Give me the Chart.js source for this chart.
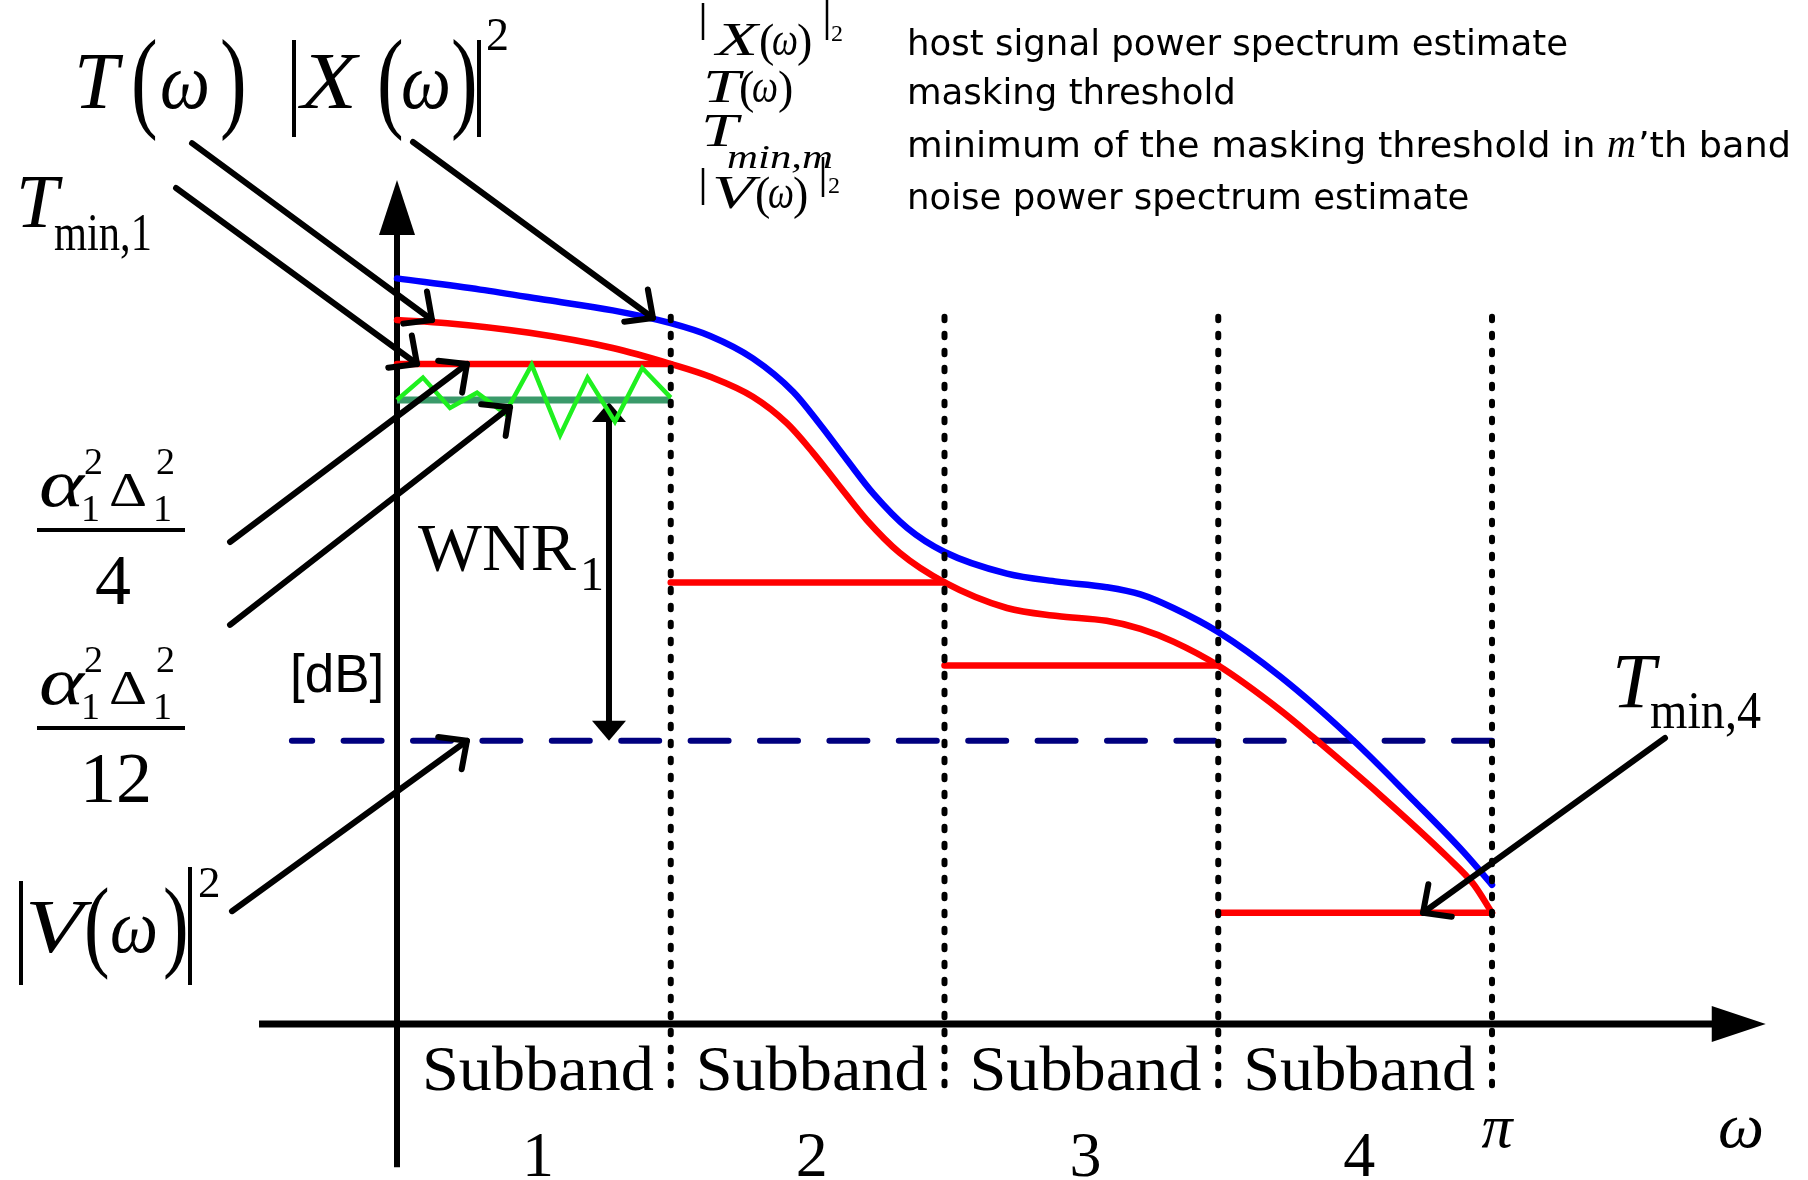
<!DOCTYPE html>
<html>
<head>
<meta charset="utf-8">
<script src="https://cdn.jsdelivr.net/npm/chart.js@4.4.1/dist/chart.umd.min.js"></script>
<style>
  html, body { margin: 0; padding: 0; background: #ffffff; }
  #wrap { width: 1808px; height: 1180px; position: relative; }
</style>
</head>
<body>
<div id="wrap"><canvas id="c"></canvas></div>
<script>
// Frequencies are given in units of pi (0 ... 1), levels in dB.
const bandEdges = [0, 0.25, 0.5, 0.75, 1];
const bandNumbers = ['1', '2', '3', '4'];

// |X(w)|^2 : host signal power spectrum estimate
const hostOmega = [0, 0.076, 0.137, 0.197, 0.25, 0.286, 0.325, 0.362, 0.386, 0.411, 0.435, 0.466, 0.5,
                   0.557, 0.603, 0.648, 0.679, 0.709, 0.75, 0.806, 0.873, 0.928, 0.974, 1];
const hostDb    = [93.2, 91.8, 90.5, 89.2, 87.6, 86.0, 83.2, 79.0, 75.0, 70.5, 66.3, 62.0, 59.0,
                   56.3, 55.3, 54.6, 53.7, 52.0, 49.0, 43.5, 35.5, 28.0, 21.5, 17.4];

// T(w) : masking threshold
const maskOmega = [0, 0.046, 0.121, 0.197, 0.25, 0.286, 0.325, 0.356, 0.38, 0.402, 0.429, 0.459, 0.5,
                   0.557, 0.603, 0.648, 0.679, 0.709, 0.75, 0.806, 0.837, 0.898, 0.959, 0.983, 1];
const maskDb    = [88.0, 87.6, 86.4, 84.5, 82.5, 80.9, 78.4, 75.1, 71.4, 67.6, 63.0, 58.9, 55.2,
                   52.0, 51.0, 50.4, 49.4, 47.8, 44.8, 39.3, 35.8, 28.6, 20.9, 17.5, 13.9];

// T_min,m : minimum of the masking threshold in each subband
const tminDb = [82.5, 55.2, 44.8, 13.9];

// watermark spectrum in subband 1 and its mean level
const markOmega = [0, 0.0237, 0.0484, 0.0731, 0.0986, 0.123, 0.149, 0.174, 0.199, 0.224, 0.25];
const markDb    = [78.0, 80.8, 77.0, 78.9, 76.3, 82.4, 73.6, 80.8, 75.3, 82.0, 78.3];
const markLevelDb = 78.0;

// |V(w)|^2 : noise power spectrum estimate
const noiseDb = 35.4;
const noiseFrom = -0.096;

const PI = Math.PI;
const SERIF = '"Liberation Serif", "Times New Roman", serif';
const SANS = '"Liberation Sans", Arial, sans-serif';
const LEGEND_SANS = '"DejaVu Sans", sans-serif';

const toPts = (om, db) => om.map((o, i) => ({ x: o * PI, y: db[i] }));
const base = { pointRadius: 0, pointHoverRadius: 0, fill: false, clip: false, tension: 0 };

const datasets = [];
// dotted subband separators (drawn on top)
bandEdges.slice(1).forEach(e => {
  datasets.push(Object.assign({}, base, {
    data: [{ x: e * PI, y: 88.4 }, { x: e * PI, y: -8.6 }],
    borderColor: '#000000', borderWidth: 6, borderDash: [3.5, 13.5], borderCapStyle: 'round'
  }));
});
// watermark zigzag
datasets.push(Object.assign({}, base, {
  data: toPts(markOmega, markDb), borderColor: '#1ff01f', borderWidth: 4.5
}));
// T_min,m steps
tminDb.forEach((v, i) => {
  datasets.push(Object.assign({}, base, {
    data: [{ x: bandEdges[i] * PI, y: v }, { x: bandEdges[i + 1] * PI, y: v }],
    borderColor: '#ff0000', borderWidth: 6.5, borderCapStyle: 'round'
  }));
});
// masking threshold
datasets.push(Object.assign({}, base, {
  data: toPts(maskOmega, maskDb), borderColor: '#ff0000', borderWidth: 6.5,
  borderCapStyle: 'round', cubicInterpolationMode: 'monotone'
}));
// host power spectrum
datasets.push(Object.assign({}, base, {
  data: toPts(hostOmega, hostDb), borderColor: '#0000ff', borderWidth: 6.5,
  borderCapStyle: 'round', cubicInterpolationMode: 'monotone'
}));
// watermark level in subband 1
datasets.push(Object.assign({}, base, {
  data: [{ x: bandEdges[0] * PI, y: markLevelDb }, { x: bandEdges[1] * PI, y: markLevelDb }],
  borderColor: '#3a9a6a', borderWidth: 7
}));
// noise level (drawn from pi towards the left so the dash pattern starts at pi)
datasets.push(Object.assign({}, base, {
  data: [{ x: PI, y: noiseDb }, { x: noiseFrom * PI, y: noiseDb }],
  borderColor: '#00007f', borderWidth: 6, borderDash: [38, 31.4], borderCapStyle: 'round'
}));

// ---------- drawing helpers ----------
function run(ctx, t, x, y, size, opt) {
  opt = opt || {};
  ctx.save();
  ctx.fillStyle = '#000';
  ctx.font = (opt.italic ? 'italic ' : '') + size + 'px ' + (opt.family || SERIF);
  ctx.textBaseline = 'alphabetic';
  ctx.textAlign = opt.align || 'left';
  ctx.translate(x, y);
  let sx = opt.sx || 1;
  if (opt.w) sx = opt.w / ctx.measureText(t).width;
  ctx.scale(sx, opt.sy || 1);
  ctx.fillText(t, 0, 0);
  ctx.restore();
}
function vbar(ctx, x, y1, y2, w) {
  ctx.save();
  ctx.strokeStyle = '#000'; ctx.lineWidth = w || 4; ctx.lineCap = 'butt';
  ctx.beginPath(); ctx.moveTo(x, y1); ctx.lineTo(x, y2); ctx.stroke();
  ctx.restore();
}
function hbar(ctx, x1, x2, y, w) {
  ctx.save();
  ctx.strokeStyle = '#000'; ctx.lineWidth = w || 4;
  ctx.beginPath(); ctx.moveTo(x1, y); ctx.lineTo(x2, y); ctx.stroke();
  ctx.restore();
}
function solidHead(ctx, tx, ty, ang, len, half) {
  const c = Math.cos(ang), s = Math.sin(ang);
  const bx = tx - c * len, by = ty - s * len;
  ctx.beginPath();
  ctx.moveTo(tx, ty);
  ctx.lineTo(bx - s * half, by + c * half);
  ctx.lineTo(bx + s * half, by - c * half);
  ctx.closePath();
  ctx.fill();
}
function pointer(ctx, x1, y1, x2, y2) {
  ctx.save();
  ctx.strokeStyle = '#000'; ctx.lineWidth = 6; ctx.lineCap = 'round'; ctx.lineJoin = 'round';
  ctx.beginPath(); ctx.moveTo(x1, y1); ctx.lineTo(x2, y2); ctx.stroke();
  const a = Math.atan2(y2 - y1, x2 - x1) + Math.PI;
  const L = 29, h = 0.76;
  ctx.beginPath();
  ctx.moveTo(x2 + L * Math.cos(a - h), y2 + L * Math.sin(a - h));
  ctx.lineTo(x2, y2);
  ctx.lineTo(x2 + L * Math.cos(a + h), y2 + L * Math.sin(a + h));
  ctx.stroke();
  ctx.restore();
}

// annotation pointers in data units: [omega/pi, dB]
const pointers = [
  { from: [-0.1872, 110.1], to: [0.032, 88.0] },       // T(w)
  { from: [0.0146, 110.25], to: [0.2338, 88.25] },     // |X(w)|^2
  { from: [-0.2018, 104.5], to: [0.0183, tminDb[0]] }, // T_min,1
  { from: [-0.1525, 60.25], to: [0.0639, tminDb[0]] }, // a^2 D^2 / 4
  { from: [-0.1525, 49.9], to: [0.1032, 77.1] },       // a^2 D^2 / 12
  { from: [-0.1507, 14.1], to: [0.0639, noiseDb] },    // |V(w)|^2
  { from: [1.158, 35.75], to: [0.937, tminDb[3]] }     // T_min,4
];

const diagram = {
  id: 'diagram',
  beforeDatasetsDraw(chart) {
    const ctx = chart.ctx, xs = chart.scales.x, ys = chart.scales.y;
    const X = f => xs.getPixelForValue(f * PI), Y = v => ys.getPixelForValue(v);
    ctx.save();
    ctx.strokeStyle = '#000'; ctx.fillStyle = '#000';
    // frequency axis
    const x0 = X(-0.126), xTip = X(1.25), yA = Y(0);
    ctx.lineWidth = 7;
    ctx.beginPath(); ctx.moveTo(x0, yA); ctx.lineTo(xTip - 50, yA); ctx.stroke();
    solidHead(ctx, xTip, yA, 0, 54, 18);
    // level axis
    const xA = X(0), yTip = Y(105.5), yB = Y(-17.9);
    ctx.lineWidth = 6;
    ctx.beginPath(); ctx.moveTo(xA, yB); ctx.lineTo(xA, yTip + 50); ctx.stroke();
    solidHead(ctx, xA, yTip, -Math.PI / 2, 55, 18);
    // WNR_1 double arrow between watermark level and noise level
    const xw = X(0.1936), yTop = Y(markLevelDb) + 2, yBot = Y(noiseDb);
    ctx.lineWidth = 6;
    ctx.beginPath(); ctx.moveTo(xw, yTop + 15); ctx.lineTo(xw, yBot - 15); ctx.stroke();
    solidHead(ctx, xw, yTop, -Math.PI / 2, 20, 17);
    solidHead(ctx, xw, yBot, Math.PI / 2, 20, 17);
    ctx.restore();
  },
  afterDatasetsDraw(chart) {
    const ctx = chart.ctx, xs = chart.scales.x, ys = chart.scales.y;
    const X = f => xs.getPixelForValue(f * PI), Y = v => ys.getPixelForValue(v);

    pointers.forEach(p => pointer(ctx, X(p.from[0]), Y(p.from[1]), X(p.to[0]), Y(p.to[1])));

    // T(w)   |X(w)|^2
    run(ctx, 'T', 74, 108, 80, { italic: true });
    run(ctx, '(', 131, 117, 80, { sy: 1.4 });
    run(ctx, '\u03C9', 160, 108, 80, { italic: true, w: 50 });
    run(ctx, ')', 220, 117, 80, { sy: 1.4 });
    vbar(ctx, 294, 40, 137);
    run(ctx, 'X', 301, 108, 80, { italic: true, w: 56 });
    run(ctx, '(', 377, 117, 80, { sy: 1.4 });
    run(ctx, '\u03C9', 401, 108, 80, { italic: true, w: 50 });
    run(ctx, ')', 451, 117, 80, { sy: 1.4 });
    vbar(ctx, 479, 40, 137);
    run(ctx, '2', 486, 50, 46);

    // T_min,1 and T_min,4
    run(ctx, 'T', 16, 227, 76, { italic: true });
    run(ctx, 'min,1', 54, 250, 52, { w: 98 });
    run(ctx, 'T', 1612, 707, 78, { italic: true });
    run(ctx, 'min,4', 1650, 728, 52, { w: 111 });

    // alpha_1^2 Delta_1^2 / 4  and  / 12
    [[530, '4', 95], [728, '12', 80]].forEach(([B, den, dx]) => {
      run(ctx, '\u03B1', 39, B - 24, 68, { italic: true, w: 45 });
      run(ctx, '1', 81, B - 9, 38);
      run(ctx, '2', 84, B - 56, 38);
      run(ctx, '\u0394', 109, B - 24, 48, { w: 38 });
      run(ctx, '1', 153, B - 9, 38);
      run(ctx, '2', 156, B - 56, 38);
      hbar(ctx, 37, 185, B, 4);
      run(ctx, den, dx, B + 74, 72);
    });

    // |V(w)|^2
    vbar(ctx, 21, 881, 985);
    run(ctx, 'V', 25, 952, 77, { italic: true, w: 58 });
    run(ctx, '(', 84, 958, 77, { sy: 1.31 });
    run(ctx, '\u03C9', 110, 952, 77, { italic: true, w: 48 });
    run(ctx, ')', 163, 958, 77, { sy: 1.31 });
    vbar(ctx, 190, 867, 985);
    run(ctx, '2', 198, 897, 45);

    // axis unit and WNR label
    run(ctx, '[dB]', 290, 692, 53, { family: SANS });
    run(ctx, 'WNR', 418, 570, 67, { w: 158 });
    run(ctx, '1', 580, 590, 48);

    // subband captions
    for (let i = 0; i < bandNumbers.length; i++) {
      const cx = X((bandEdges[i] + bandEdges[i + 1]) / 2) + 4;
      run(ctx, 'Subband', cx, 1090, 64, { align: 'center', w: 232 });
      run(ctx, bandNumbers[i], cx, 1176, 64, { align: 'center' });
    }
    run(ctx, '\u03C0', X(1) + 5, 1147, 62, { italic: true, align: 'center' });
    run(ctx, '\u03C9', 1718, 1147, 64, { italic: true, w: 46 });

    // legend: symbols
    vbar(ctx, 703, 3, 40, 2.5);
    run(ctx, 'X', 716, 55, 46, { italic: true, w: 42 });
    run(ctx, '(', 759, 56, 46);
    run(ctx, '\u03C9', 772, 55, 46, { italic: true, w: 26 });
    run(ctx, ')', 797, 56, 46);
    vbar(ctx, 827, 0, 40, 2.5);
    run(ctx, '2', 831, 41, 24);

    run(ctx, 'T', 703, 102, 46, { italic: true, w: 37 });
    run(ctx, '(', 739, 103, 46);
    run(ctx, '\u03C9', 752, 102, 46, { italic: true, w: 26 });
    run(ctx, ')', 778, 103, 46);

    run(ctx, 'T', 701, 146, 46, { italic: true, w: 37 });
    run(ctx, 'min,m', 727, 168, 34, { italic: true, w: 106 });

    vbar(ctx, 703, 168, 205, 2.5);
    run(ctx, 'V', 712, 208, 46, { italic: true, w: 42 });
    run(ctx, '(', 755, 209, 46);
    run(ctx, '\u03C9', 768, 208, 46, { italic: true, w: 26 });
    run(ctx, ')', 793, 209, 46);
    vbar(ctx, 823, 157, 197, 2.5);
    run(ctx, '2', 828, 193, 24);

    // legend: descriptions (horizontal scale from the first row)
    ctx.save();
    ctx.font = '36px ' + LEGEND_SANS;
    const sx = 661 / ctx.measureText('host signal power spectrum estimate').width;
    const pre = 'minimum of the masking threshold in ';
    const post = '\u2019th band';
    const preRaw = ctx.measureText(pre).width, postRaw = ctx.measureText(post).width;
    ctx.font = 'italic 40px ' + SERIF;
    const mW = ctx.measureText('m').width;
    ctx.restore();
    // third row spans 907 ... 1791
    const sx3 = (1791 - 907 - mW - 2) / (preRaw + postRaw);
    run(ctx, 'host signal power spectrum estimate', 907, 55, 36, { family: LEGEND_SANS, sx });
    run(ctx, 'masking threshold', 907, 104, 36, { family: LEGEND_SANS, sx });
    run(ctx, pre, 907, 157, 36, { family: LEGEND_SANS, sx: sx3 });
    run(ctx, 'm', 907 + preRaw * sx3, 157, 40, { italic: true });
    run(ctx, post, 907 + preRaw * sx3 + mW + 2, 157, 36, { family: LEGEND_SANS, sx: sx3 });
    run(ctx, 'noise power spectrum estimate', 907, 209, 36, { family: LEGEND_SANS, sx });
  }
};

new Chart(document.getElementById('c'), {
  type: 'line',
  data: { datasets },
  options: {
    responsive: true,
    maintainAspectRatio: false,
    devicePixelRatio: 1,
    animation: false,
    events: [],
    layout: { padding: { left: 397, right: 316, top: 224, bottom: 156 } },
    scales: {
      x: { type: 'linear', min: 0, max: PI, display: false },
      y: { type: 'linear', min: 0, max: 100, display: false }
    },
    plugins: { legend: { display: false }, tooltip: { enabled: false } }
  },
  plugins: [diagram]
});
</script>
</body>
</html>
